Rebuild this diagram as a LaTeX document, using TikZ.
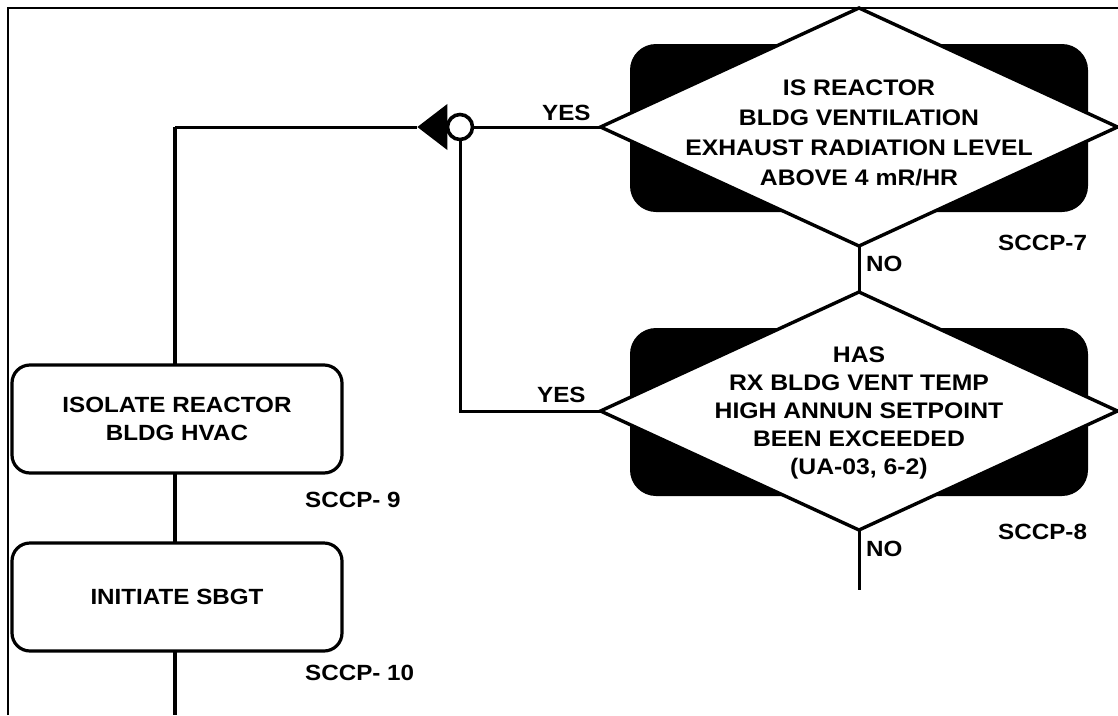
\documentclass[tikz,border=0pt]{standalone}
\usepackage{fontspec}
\setmainfont{Liberation Sans}[FakeStretch=1.1]
\usetikzlibrary{shapes.geometric}
\tikzset{
  frameline/.style={line width=2.2pt},
  conn/.style={line width=3pt},
  mainline/.style={line width=3.8pt},
  blk/.style={rectangle, rounded corners=26pt, fill=black, draw=none,
    minimum width=458pt, minimum height=168pt, inner sep=0pt, outer sep=0pt},
  dia/.style={diamond, draw, line width=3.4pt, fill=white,
    minimum width=517pt, minimum height=238pt, inner sep=0pt, outer sep=0pt},
  dtxt/.style={align=center, font=\fontsize{22.5}{30}\selectfont\bfseries, inner sep=0pt},
  actbox/.style={rectangle, rounded corners=18pt, draw, line width=3.2pt, fill=white,
    minimum width=330pt, minimum height=108pt, align=center, inner sep=0pt, outer sep=0pt,
    font=\fontsize{22}{28}\selectfont\bfseries},
  lab/.style={font=\fontsize{22}{26}\selectfont\bfseries, inner sep=0pt, anchor=west},
  tri/.style={isosceles triangle, isosceles triangle apex angle=75, shape border rotate=180,
    fill=black, draw=none, minimum height=30pt, minimum width=24pt, inner sep=0pt, outer sep=0pt},
  junc/.style={circle, draw, fill=white, line width=3.6pt, minimum size=25pt, inner sep=0pt, outer sep=0pt},
}
\begin{document}
\begin{tikzpicture}[x=1pt,y=-1pt]
\useasboundingbox (0,0) rectangle (1118,715);
% frame
\coordinate (fb) at (8,715);
\coordinate (ftl) at (8,8);
\coordinate (fr) at (1118,8);
\draw[frameline] (fb) -- (ftl) -- (fr);

% decision 1
\node[blk] (r1) at (859,128) {};
\node[dia] (d1) at (859,127) {};
\node[dtxt] (t1) at (859,133) {IS REACTOR\\BLDG VENTILATION\\EXHAUST RADIATION LEVEL\\ABOVE 4 mR/HR};

% decision 2
\node[blk] (r2) at (859,412) {};
\node[dia] (d2) at (859,411) {};
\node[dtxt, font=\fontsize{22.5}{28}\selectfont\bfseries] (t2) at (859,413) {HAS\\RX BLDG VENT TEMP\\HIGH ANNUN SETPOINT\\BEEN EXCEEDED\\(UA-03, 6-2)};

% action boxes
\node[actbox] (b1) at (177,419) {ISOLATE REACTOR\\BLDG HVAC};
\node[actbox] (b2) at (177,597) {INITIATE SBGT};

% junction
\node[tri] (jt) at (436,127) {};
\node[junc] (jc) at (460,127) {};

% coordinates
\coordinate (c0) at (175,127);
\coordinate (cb) at (175,715);
\coordinate (cn) at (859,590);

% connectors
\draw[mainline] (c0) -- (b1.north -| c0);
\draw[mainline] (b1.south -| c0) -- (b2.north -| c0);
\draw[mainline] (b2.south -| c0) -- (cb);
\draw[conn] (c0) -- (jt.apex);
\draw[conn] (jc.east) -- (d1.west);
\draw[conn] (jc.south) |- (d2.west);
\draw[conn] (d1.south) -- (d2.north);
\draw[conn] (d2.south) -- (cn);

% labels
\node[lab] (y1) at (542,113) {YES};
\node[lab] (y2) at (537,395) {YES};
\node[lab] (n1) at (866,264) {NO};
\node[lab] (n2) at (866,549) {NO};
\node[lab] (s7) at (998,243) {SCCP-7};
\node[lab] (s8) at (998,532) {SCCP-8};
\node[lab] (s9) at (305,500) {SCCP- 9};
\node[lab] (s10) at (305,673) {SCCP- 10};
\end{tikzpicture}
\end{document}
